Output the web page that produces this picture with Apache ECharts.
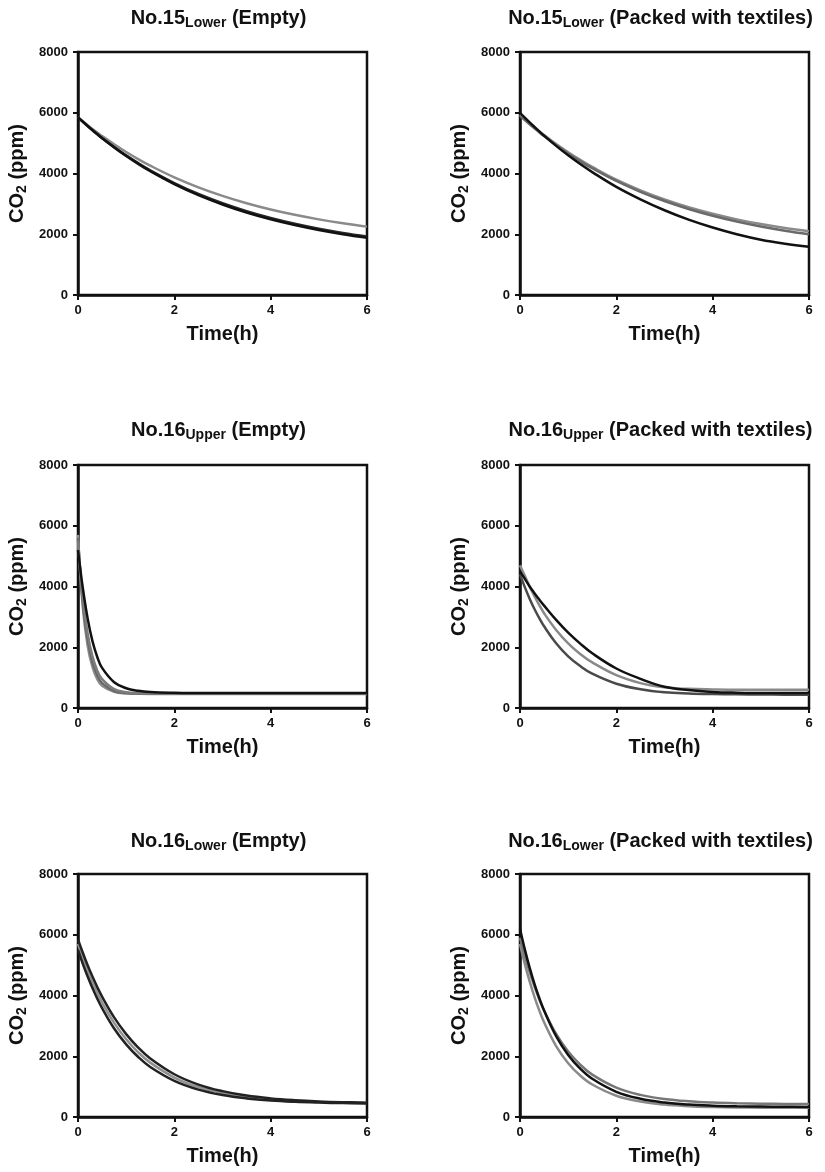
<!DOCTYPE html>
<html>
<head>
<meta charset="utf-8">
<script src="https://cdn.jsdelivr.net/npm/echarts@6/dist/echarts.min.js"></script>
<style>
html,body{margin:0;padding:0;background:#fff;}
#chart{width:825px;height:1172px;}
</style>
</head>
<body>
<div id="chart"></div>
<script>
// Time axis (h)
const T = [0,0.1,0.2,0.3,0.4,0.5,0.75,1,1.25,1.5,2,2.5,3,3.5,4,4.5,5,5.5,6];
const xTicks = [0,2,4,6];
const yTicks = [0,2000,4000,6000,8000];

// Panel titles
const titleMain = ['No.15','No.15','No.16','No.16','No.16','No.16'];
const titleSub = ['Lower','Lower','Upper','Upper','Lower','Lower'];
const titleTail = [' (Empty)',' (Packed with textiles)',' (Empty)',' (Packed with textiles)',' (Empty)',' (Packed with textiles)'];

// No.15 Lower (Empty)
const p1Grey   = [5850,5719,5592,5469,5350,5234,4961,4708,4474,4258,3873,3544,3263,3022,2816,2640,2490,2361,2251];
const p1Black2 = [5850,5706,5566,5431,5300,5172,4875,4596,4340,4105,3685,3325,3020,2758,2535,2345,2182,2045,1930];
const p1Black1 = [5850,5704,5562,5425,5292,5162,4860,4576,4316,4078,3652,3288,2981,2716,2493,2302,2139,2000,1883];

// No.15 Lower (Packed with textiles)
const p2Grey1 = [5900,5758,5620,5487,5357,5232,4935,4660,4406,4172,3755,3398,3093,2833,2610,2420,2257,2118,2000];
const p2Grey2 = [5940,5795,5655,5520,5390,5265,4970,4700,4448,4215,3795,3445,3145,2890,2675,2490,2335,2205,2100];
const p2Black = [6000,5839,5683,5533,5386,5245,4909,4599,4312,4046,3560,3150,2790,2480,2220,2000,1820,1690,1590];

// No.16 Upper (Empty)
const p3Grey2 = [5700,3300,2050,1350,950,730,530,480,470,465,465,465,465,465,465,465,465,465,465];
const p3Dark  = [5600,3450,2250,1500,1070,820,560,495,478,472,470,470,470,470,470,470,470,470,470];
const p3Grey1 = [5500,3600,2450,1700,1230,950,620,520,490,480,475,475,475,475,475,475,475,475,475];
const p3Black = [5200,3950,2950,2200,1680,1320,850,650,565,525,500,492,490,490,490,490,490,490,490];

// No.16 Upper (Packed with textiles)
const p4Dark  = [4400,3980,3600,3260,2960,2690,2130,1700,1380,1130,800,620,520,480,460,450,445,440,440];
const p4Grey  = [4700,4350,4000,3680,3390,3120,2570,2130,1780,1500,1080,820,680,630,610,600,600,600,600];
const p4Black = [4500,4250,4000,3780,3570,3370,2900,2480,2120,1800,1300,960,700,590,530,505,495,490,490];

// No.16 Lower (Empty)
const p5Grey  = [5700,5230,4810,4430,4090,3770,3100,2560,2130,1790,1300,985,790,660,580,525,495,472,460];
const p5Inner = [5500,5040,4623,4243,3898,3584,2914,2392,1976,1647,1190,902,724,612,542,500,474,457,447];
const p5Outer = [5850,5407,4995,4622,4276,3962,3280,2729,2285,1928,1408,1068,851,705,613,554,514,488,471];

// No.16 Lower (Packed with textiles)
const p6Inner = [5700,5041,4463,3957,3511,3118,2336,1772,1365,1069,701,510,408,357,330,315,308,304,302];
const p6Outer = [5900,5303,4775,4300,3878,3505,2733,2157,1724,1395,968,729,594,518,475,451,438,430,426];
const p6Black = [6200,5520,4920,4386,3917,3506,2661,2044,1592,1257,830,600,477,409,373,353,342,336,333];

const panels = [
  [[p1Grey,'#8a8a8a'],[p1Black2,'#2a2a2a'],[p1Black1,'#111111']],
  [[p2Grey2,'#8a8a8a'],[p2Grey1,'#6a6a6a'],[p2Black,'#111111']],
  [[p3Grey2,'#8e8e8e'],[p3Dark,'#6a6a6a'],[p3Grey1,'#7c7c7c'],[p3Black,'#111111']],
  [[p4Dark,'#4a4a4a'],[p4Grey,'#8a8a8a'],[p4Black,'#111111']],
  [[p5Grey,'#909090'],[p5Inner,'#222222'],[p5Outer,'#222222']],
  [[p6Inner,'#8a8a8a'],[p6Outer,'#777777'],[p6Black,'#111111']]
];

const lefts = [78,520];
const tops = [52,465,874];
const W = 289, H = 243;
const FONT = 'Liberation Sans, Arial, Helvetica, sans-serif';
const titleY = [18,430,841];

const grids = [], xAxes = [], yAxes = [], series = [], graphics = [];
for (let i = 0; i < 6; i++) {
  const c = i % 2, r = Math.floor(i / 2);
  grids.push({left: lefts[c], top: tops[r], width: W, height: H, show: true,
    borderColor: '#111', borderWidth: 2.5, backgroundColor: 'transparent', containLabel: false});
  xAxes.push({type: 'value', gridIndex: i, min: 0, max: 6, interval: 2,
    name: 'Time(h)', nameLocation: 'middle', nameGap: 29,
    nameTextStyle: {fontFamily: FONT, fontWeight: 'bold', fontSize: 20, color: '#111'},
    axisLine: {show: true, onZero: false, lineStyle: {color: '#111', width: 2.5}},
    axisTick: {show: true, length: 5, lineStyle: {color: '#111', width: 2}},
    axisLabel: {fontFamily: FONT, fontWeight: 'bold', fontSize: 13, color: '#111', margin: 9,
      formatter: v => xTicks.includes(v) ? String(v) : ''},
    splitLine: {show: false}});
  yAxes.push({type: 'value', gridIndex: i, min: 0, max: 8000, interval: 2000,
    name: '{a|CO}{s|2}{a| (ppm)}', nameLocation: 'middle', nameGap: 49, nameRotate: 90,
    nameTextStyle: {rich: {
      a: {fontFamily: FONT, fontWeight: 'bold', fontSize: 20, color: '#111', lineHeight: 24, verticalAlign: 'middle'},
      s: {fontFamily: FONT, fontWeight: 'bold', fontSize: 14, color: '#111', lineHeight: 24, verticalAlign: 'bottom'}}},
    axisLine: {show: true, onZero: false, lineStyle: {color: '#111', width: 2.5}},
    axisTick: {show: true, length: 5, lineStyle: {color: '#111', width: 2}},
    axisLabel: {fontFamily: FONT, fontWeight: 'bold', fontSize: 13, color: '#111', margin: 10,
      formatter: v => yTicks.includes(v) ? String(v) : ''},
    splitLine: {show: false}});
  panels[i].forEach(([arr, col]) => {
    series.push({type: 'line', xAxisIndex: i, yAxisIndex: i, smooth: 0.4, showSymbol: false,
      lineStyle: {color: col, width: 2.5}, itemStyle: {color: col}, silent: true,
      data: T.map((t, k) => [t, arr[k]])});
  });
  graphics.push({type: 'text', x: lefts[c] + W / 2 - 4, y: titleY[r],
    style: {text: '{a|' + titleMain[i] + '}{s|' + titleSub[i] + '}{a|' + titleTail[i] + '}',
      align: 'center', verticalAlign: 'middle',
      rich: {
        a: {fontFamily: FONT, fontWeight: 'bold', fontSize: 20, fill: '#111', lineHeight: 24, verticalAlign: 'middle'},
        s: {fontFamily: FONT, fontWeight: 'bold', fontSize: 14, fill: '#111', lineHeight: 24, verticalAlign: 'bottom'}}}});
}

const chart = echarts.init(document.getElementById('chart'), null, {renderer: 'canvas'});
chart.setOption({
  animation: false,
  backgroundColor: '#ffffff',
  grid: grids, xAxis: xAxes, yAxis: yAxes, series: series, graphic: graphics
});
</script>
</body>
</html>
